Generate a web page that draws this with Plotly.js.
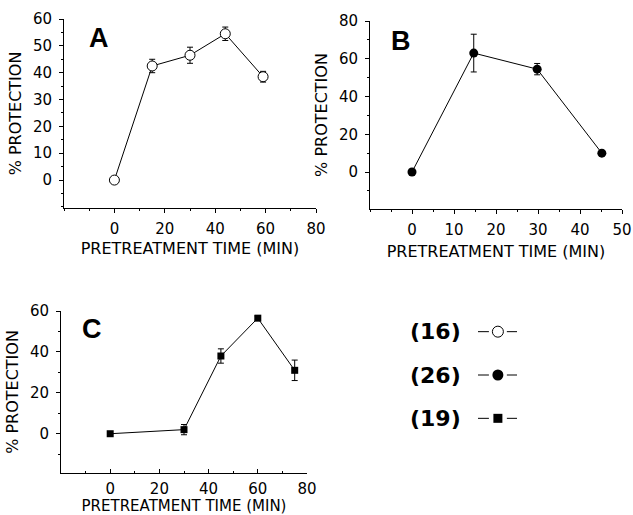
<!DOCTYPE html>
<html>
<head>
<meta charset="utf-8">
<script src="https://cdn.plot.ly/plotly-3.0.1.min.js"></script>
<style>html,body{margin:0;padding:0;background:#fff;}#chart{width:633px;height:515px;}</style>
</head>
<body>
<div id="chart"></div>
<script>
// Panel A (16): open circles
const aTime = [0, 15, 30, 44, 59];
const aProt = [0, 42.5, 46.5, 54.5, 38.5];
const aErr  = [0, 2.5, 3, 2.5, 2];
// Panel B (26): filled circles
const bTime = [0, 14.7, 29.8, 45.2];
const bProt = [0, 63, 54.5, 10];
const bErr  = [0, 10, 3, 0.8];
// Panel C (19): filled squares
const cTime = [0, 30, 45, 60, 75];
const cProt = [0, 2, 38, 56.5, 31];
const cErr  = [0, 2.5, 3.5, 1, 5];

// tick labels
const aXTicks = [0, 20, 40, 60, 80];
const aYTicks = [0, 10, 20, 30, 40, 50, 60];
const bXTicks = [0, 10, 20, 30, 40, 50];
const bYTicks = [0, 20, 40, 60, 80];
const cXTicks = [0, 20, 40, 60, 80];
const cYTicks = [0, 20, 40, 60];

const panelLetters = ['A', 'B', 'C'];
const legendLabels = ['(16)', '(26)', '(19)'];
const xTitle = 'PRETREATMENT TIME (MIN)';
const yTitle = '% PROTECTION';

const W = 633, H = 515;
const px = (a, b) => [a / W, b / W];
const py = (top, bottom) => [1 - bottom / H, 1 - top / H];

const tickFont = {family: 'DejaVu Sans', size: 15, color: '#000'};
const titleFont = {family: 'DejaVu Sans', size: 16, color: '#000'};

const markerStyles = [
  {symbol: 'circle', size: 10, color: '#fff', line: {color: '#000', width: 1}},
  {symbol: 'circle', size: 9, color: '#000', line: {color: '#000', width: 0}},
  {symbol: 'square', size: 7, color: '#000', line: {color: '#000', width: 0}}
];
const legendMarkerStyles = [
  {symbol: 'circle', size: 11, color: '#fff', line: {color: '#000', width: 1}},
  {symbol: 'circle', size: 11, color: '#000', line: {color: '#000', width: 0}},
  {symbol: 'square', size: 9, color: '#000', line: {color: '#000', width: 0}}
];

function series(x, y, e, xa, ya, m) {
  return {
    x: x, y: y, xaxis: xa, yaxis: ya, type: 'scatter', mode: 'lines+markers',
    line: {color: '#000', width: 1}, marker: m, showlegend: false, hoverinfo: 'skip',
    error_y: {type: 'data', array: e, visible: true, color: '#000', thickness: 1, width: 3}
  };
}

const traces = [
  series(aTime, aProt, aErr, 'x', 'y', markerStyles[0]),
  series(bTime, bProt, bErr, 'x2', 'y2', markerStyles[1]),
  series(cTime, cProt, cErr, 'x3', 'y3', markerStyles[2])
];

// legend key glyphs on a hidden axis
legendLabels.forEach((lab, i) => {
  const row = 3 - i;
  traces.push({x: [0, 0.28, null, 0.74, 1], y: [row, row, null, row, row], xaxis: 'x4', yaxis: 'y4',
    mode: 'lines', line: {color: '#000', width: 1}, showlegend: false, hoverinfo: 'skip'});
  traces.push({x: [0.51], y: [row], xaxis: 'x4', yaxis: 'y4', mode: 'markers',
    marker: legendMarkerStyles[i], showlegend: false, hoverinfo: 'skip'});
});

function xax(domain, range, vals, minorDtick, anchor, standoff, labelStandoff, tFont, tickDir) {
  return {
    domain: domain, range: range, tickmode: 'array', tickvals: vals, anchor: anchor,
    showline: true, linecolor: '#000', linewidth: 1, ticks: tickDir, ticklen: 4, tickcolor: '#000',
    minor: {ticks: tickDir, ticklen: 2, dtick: minorDtick, tick0: 0, tickcolor: '#000'},
    showgrid: false, zeroline: false, tickfont: tickFont, ticklabelstandoff: labelStandoff,
    title: {text: xTitle, font: tFont, standoff: standoff}
  };
}
function yax(domain, range, vals, minorDtick, anchor) {
  return {
    domain: domain, range: range, tickmode: 'array', tickvals: vals, anchor: anchor,
    showline: true, linecolor: '#000', linewidth: 1, ticks: 'outside', ticklen: 4, tickcolor: '#000',
    minor: {ticks: 'outside', ticklen: 2, dtick: minorDtick, tick0: 0, tickcolor: '#000'},
    showgrid: false, zeroline: false, tickfont: tickFont, ticklabelstandoff: 4,
    title: {text: yTitle, font: titleFont, standoff: 7}
  };
}

const letterFont = {family: 'Liberation Sans', size: 27, color: '#000', weight: 'bold'};

const layout = {
  width: W, height: H, margin: {l: 0, r: 0, t: 0, b: 0},
  paper_bgcolor: '#fff', plot_bgcolor: 'rgba(0,0,0,0)', showlegend: false,
  xaxis: xax(px(64, 316), [-20, 80], aXTicks, 10, 'y', 5, 3, titleFont, 'outside'),
  yaxis: yax(py(19, 208), [-10.4, 60], aYTicks, 5, 'x'),
  xaxis2: xax(px(370, 622), [-10, 50], bXTicks, 5, 'y2', 7, 3, titleFont, 'outside'),
  yaxis2: yax(py(21, 209), [-19.6, 80], bYTicks, 10, 'x2'),
  xaxis3: xax(px(61, 307), [-20, 80], cXTicks, 10, 'y3', 3, 2,
              {family: 'DejaVu Sans', size: 15, color: '#000'}, 'inside'),
  yaxis3: yax(py(311, 473), [-19.2, 60], cYTicks, 10, 'x3'),
  xaxis4: {domain: px(478, 517), range: [0, 1], visible: false, anchor: 'y4'},
  yaxis4: {domain: py(310, 440), range: [0.5, 3.5], visible: false, anchor: 'x4'},
  annotations: [
    {text: panelLetters[0], x: 99 / W, y: 1 - 38 / H},
    {text: panelLetters[1], x: 401 / W, y: 1 - 41 / H},
    {text: panelLetters[2], x: 92 / W, y: 1 - 329 / H}
  ].map(a => Object.assign(a, {xref: 'paper', yref: 'paper', showarrow: false,
      xanchor: 'center', yanchor: 'middle', font: letterFont}))
  .concat(legendLabels.map((lab, i) => ({
    text: lab, x: 435 / W, y: 3 - i, xref: 'paper', yref: 'y4', showarrow: false,
    xanchor: 'center', yanchor: 'middle',
    font: {family: 'DejaVu Sans', size: 22, color: '#000', weight: 'bold'}
  })))
};

Plotly.newPlot('chart', traces, layout, {displayModeBar: false, staticPlot: true});
</script>
</body>
</html>
